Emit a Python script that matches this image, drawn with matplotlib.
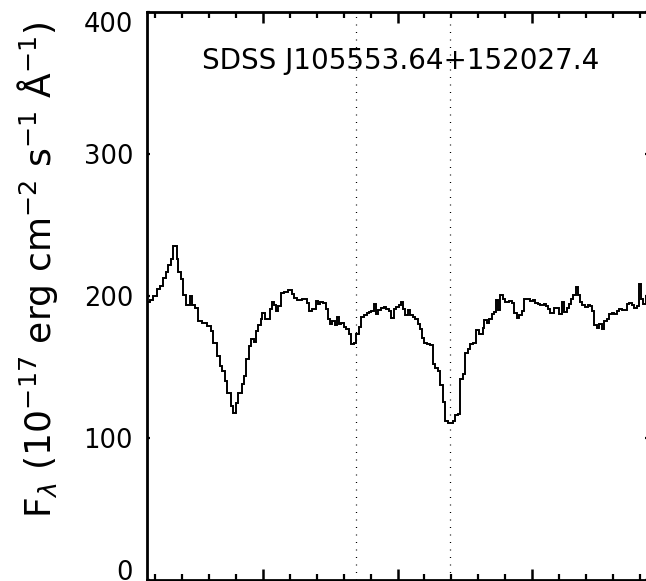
import numpy as np
import matplotlib
matplotlib.use("Agg")
import matplotlib.pyplot as plt
from matplotlib.ticker import MultipleLocator

plt.rcParams['font.family'] = ['DejaVu Sans']
plt.rcParams['mathtext.fontset'] = 'dejavusans'

## spectrum: left bin edges (Angstrom) + last right edge, and flux per bin
wave_edges = [
    1456.9, 1458.0, 1459.2, 1460.5, 1461.7, 1462.9, 1463.8, 1464.8, 1465.8, 1466.7,
    1467.9, 1468.5, 1469.5, 1470.4, 1471.3, 1472.9, 1473.7, 1474.7, 1476.0, 1477.2,
    1479.1, 1480.6, 1481.5, 1482.8, 1484.0, 1484.9, 1485.9, 1486.5, 1488.0, 1488.8,
    1490.1, 1490.8, 1492.1, 1492.9, 1493.8, 1494.8, 1495.4, 1496.7, 1497.5, 1498.3,
    1499.1, 1499.7, 1500.7, 1501.6, 1502.5, 1503.2, 1504.1, 1504.9, 1505.7, 1506.6,
    1507.8, 1509.4, 1510.7, 1511.5, 1512.8, 1514.6, 1516.2, 1517.1, 1518.1, 1519.6,
    1520.4, 1521.1, 1522.3, 1523.3, 1524.2, 1525.0, 1525.8, 1526.7, 1527.5, 1528.3,
    1529.1, 1530.0, 1531.0, 1532.0, 1532.8, 1533.7, 1534.7, 1535.7, 1536.5, 1537.4,
    1538.7, 1539.4, 1540.3, 1541.2, 1541.9, 1542.8, 1544.0, 1544.9, 1545.8, 1546.8,
    1547.7, 1548.6, 1549.3, 1550.4, 1551.3, 1552.0, 1552.9, 1553.9, 1554.8, 1555.8,
    1556.6, 1557.5, 1558.3, 1559.1, 1560.0, 1561.0, 1562.2, 1563.2, 1564.1, 1564.9,
    1565.9, 1566.9, 1567.8, 1568.7, 1570.6, 1571.5, 1572.4, 1573.3, 1574.4, 1575.2,
    1576.1, 1577.1, 1578.1, 1579.3, 1580.2, 1581.7, 1582.3, 1583.3, 1584.1, 1585.0,
    1585.8, 1586.6, 1587.5, 1588.2, 1589.1, 1590.0, 1591.6, 1592.5, 1593.4, 1594.4,
    1595.3, 1596.2, 1597.1, 1598.4, 1599.4, 1600.3, 1601.1, 1602.1, 1603.1, 1604.4,
    1605.3, 1606.1, 1606.8, 1608.1, 1610.2, 1611.0, 1612.0, 1612.9, 1613.8, 1614.5,
    1615.4, 1616.2, 1617.0, 1617.8, 1618.7, 1619.7, 1620.7, 1621.6, 1622.4, 1623.2,
    1624.1, 1624.9, 1625.9, 1626.9, 1627.8, 1628.6, 1629.6, 1630.6, 1631.5, 1632.3,
    1633.3, 1635.2, 1636.1, 1637.1, 1638.0, 1638.9, 1639.8, 1640.5, 1641.4, 1642.3,
    1643.9]

flux = [
    195.6, 197, 200, 204.7, 207, 213, 216.7, 222, 226, 235,
    226, 216.7, 211.8, 201, 194, 200, 194, 191.8, 182.4, 180.8,
    179, 175.4, 167, 157.7, 150.7, 147, 140, 131.4, 122.5, 117.8,
    124.9, 131.9, 137.8, 143.6, 155.9, 164.8, 170, 167.6, 175.4, 179.4,
    183.6, 187.8, 184, 183.6, 190.7, 195.8, 193.5, 189.5, 193, 202.4,
    203.1, 204.3, 201.7, 198.9, 197.2, 198.2, 194.9, 189.5, 190.5, 196.5,
    194.2, 196, 195, 190.7, 183.6, 180, 182.4, 179.4, 185.5, 180,
    181.2, 178.4, 177, 173, 166, 167.2, 173, 178.4, 185.5, 186.4,
    187.8, 188.7, 189.5, 194.2, 187.1, 190.2, 191.2, 192, 190.7, 189.5,
    184.8, 190.7, 192, 193.5, 195.8, 190.7, 186.4, 190.2, 186.4, 185.5,
    183.6, 180, 177, 170.7, 167.2, 166, 165.3, 151.9, 149.5, 147.2,
    137.1, 125.3, 111.9, 110.3, 111.9, 115.9, 116.6, 141.3, 144.8, 159.6,
    162.5, 166, 166.7, 176, 173, 177.7, 183.1, 180.8, 184, 187.1,
    188.7, 197.2, 190.2, 200.5, 197.9, 196, 196.5, 195, 187.8, 184.8,
    186.4, 189.5, 197.7, 198.2, 196.5, 197.2, 195.3, 194.2, 193.5, 194.2,
    193, 190.7, 187.8, 191.2, 187.1, 196, 189, 191.2, 194.2, 197.7,
    200.5, 206, 201, 196, 193.5, 192, 193.5, 193, 189.5, 179.4,
    177.7, 180, 177, 182.4, 183.6, 187.1, 187.8, 187.1, 189.5, 190.7,
    190.2, 194.2, 195.3, 193.5, 191.2, 193, 208.3, 198.2, 194.2, 199]

## marked line positions (dotted)
line_waves = [1534.6, 1569.5]
name = "SDSS J105553.64+152027.4"
yticks = [0, 100, 200, 300, 400]

W, H = 646, 581
fig = plt.figure(figsize=(W / 100, H / 100), dpi=100)
ax = fig.add_axes([147 / W, 1 / H, (648 - 147) / W, (580 - 12) / H])

ax.stairs(flux, wave_edges, baseline=None, color="black", linewidth=1.4)
for w in line_waves:
    ax.axvline(w, color="black", linewidth=0.9, linestyle=(0, (0.8, 5.2)))

ax.set_xlim(1456.9, 1643.1)
ax.set_ylim(0, 400)

ax.xaxis.set_major_locator(MultipleLocator(50))
ax.xaxis.set_minor_locator(MultipleLocator(10))
ax.set_yticks(yticks)
ax.tick_params(axis="x", which="major", direction="in", length=8, width=1.8,
               top=True, bottom=True, labelbottom=False)
ax.tick_params(axis="x", which="minor", direction="in", length=4.5, width=1.6,
               top=True, bottom=True)
ax.tick_params(axis="y", which="major", direction="in", length=2.5, width=1.6,
               left=True, right=True, labelsize=18.5, pad=10)
for s in ax.spines.values():
    s.set_linewidth(2)

labs = ax.get_yticklabels()
labs[0].set_va("baseline")
labs[-1].set_va("top")

ax.text(0.507, 0.914, name, transform=ax.transAxes, ha="center", va="center",
        fontsize=20)

fig.text(38 / W, 1 - 270 / H,
         r"F$_\lambda$ (10$^{-17}$ erg cm$^{-2}$ s$^{-1}$ Å$^{-1}$)",
         rotation=90, ha="center", va="center", fontsize=26)

fig.savefig("out.png", dpi=100)
